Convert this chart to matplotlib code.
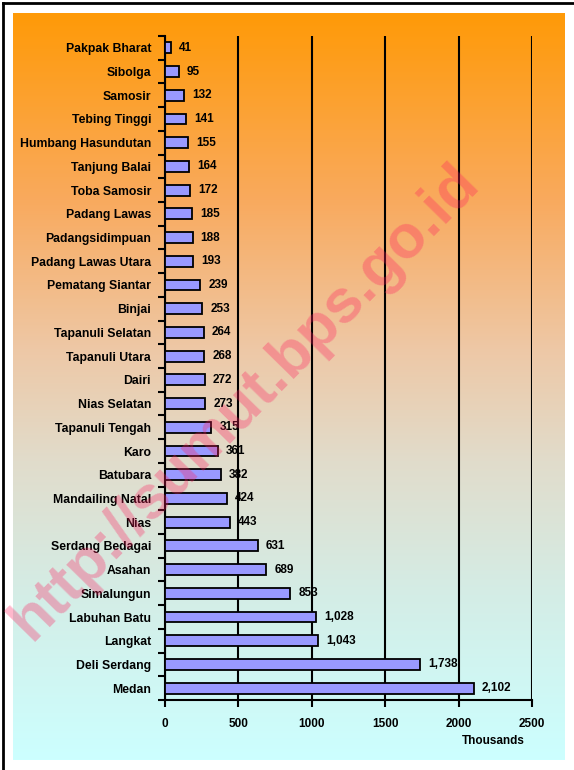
import numpy as np
import matplotlib.pyplot as plt
from matplotlib.colors import LinearSegmentedColormap
from matplotlib.lines import Line2D

# population by regency/city (thousands), top to bottom as in the chart
regions = ['Pakpak Bharat', 'Sibolga', 'Samosir', 'Tebing Tinggi', 'Humbang Hasundutan',
           'Tanjung Balai', 'Toba Samosir', 'Padang Lawas', 'Padangsidimpuan',
           'Padang Lawas Utara', 'Pematang Siantar', 'Binjai', 'Tapanuli Selatan',
           'Tapanuli Utara', 'Dairi', 'Nias Selatan', 'Tapanuli Tengah', 'Karo',
           'Batubara', 'Mandailing Natal', 'Nias', 'Serdang Bedagai', 'Asahan',
           'Simalungun', 'Labuhan Batu', 'Langkat', 'Deli Serdang', 'Medan']
population = [41, 95, 132, 141, 155, 164, 172, 185, 188, 193, 239, 253, 264, 268,
              272, 273, 315, 361, 382, 424, 443, 631, 689, 853, 1028, 1043, 1738, 2102]
xticks = [0, 500, 1000, 1500, 2000, 2500]

W, H = 574, 770
fig = plt.figure(figsize=(W / 100, H / 100), dpi=100)
fig.patch.set_facecolor('white')
plt.rcParams['font.family'] = ['Liberation Sans', 'DejaVu Sans']

# gradient backdrop
bg = fig.add_axes([13 / W, 1 - 760 / H, (565 - 13) / W, (760 - 13) / H])
cmap = LinearSegmentedColormap.from_list('bg', [
    (0.0, '#FF9A08'), (0.25, '#F9AA5E'), (0.45, '#EEC8A6'),
    (0.6, '#E1DCCB'), (0.78, '#D4EDE6'), (1.0, '#CCFFFF')])
grad = np.linspace(0, 1, 256).reshape(-1, 1)
bg.imshow(grad, aspect='auto', cmap=cmap, extent=[0, 1, 1, 0])
bg.axis('off')

# frame lines (left and top)
fig.add_artist(Line2D([3 / W, 3 / W], [0, 1 - 3 / H], transform=fig.transFigure, color='black', lw=2))
fig.add_artist(Line2D([3 / W, 1], [1 - 3 / H, 1 - 3 / H], transform=fig.transFigure, color='black', lw=2))

ax = fig.add_axes([165 / W, 1 - 700 / H, (532 - 165) / W, (700 - 36) / H])
ax.patch.set_alpha(0)
n = len(regions)
y = np.arange(n)
ax.barh(y, population, height=0.46, color='#9999FF', edgecolor='black', linewidth=1.3, zorder=3)
ax.set_xlim(0, 2500)
ax.set_ylim(n - 0.5, -0.5)

for yi, v in zip(y, population):
    ax.text(v + 55, yi, f'{v:,}', va='center', ha='left', fontsize=8.5,
            fontweight='bold', zorder=4)

ax.set_yticks(np.arange(-0.5, n, 1))
ax.set_yticklabels([])
ax.set_yticks(y, minor=True)
ax.set_yticklabels(regions, minor=True, fontsize=8.8, fontweight='bold')
ax.tick_params(axis='y', which='major', length=5, width=1.5, direction='out')
ax.tick_params(axis='y', which='minor', length=0, pad=10)

ax.set_xticks(xticks)
ax.set_xticklabels([str(t) for t in xticks], fontsize=8.5, fontweight='bold')
ax.tick_params(axis='x', length=5, width=1.5, direction='out', pad=8)
ax.xaxis.grid(True, color='black', linewidth=1.5, zorder=1)
ax.set_axisbelow(True)

for s in ['top', 'right']:
    ax.spines[s].set_visible(False)
for s in ['left', 'bottom']:
    ax.spines[s].set_linewidth(1.5)

fig.text(493 / W, 1 - 741 / H, 'Thousands', ha='center', va='center',
         fontsize=8.5, fontweight='bold')

# watermark
fig.text(245 / W, 1 - 402 / H, 'http://sumut.bps.go.id', ha='center', va='center',
         rotation=45.5, fontsize=44, fontweight='bold', color='#FF2060', alpha=0.32,
         zorder=10)

fig.savefig('out.png', dpi=100)
